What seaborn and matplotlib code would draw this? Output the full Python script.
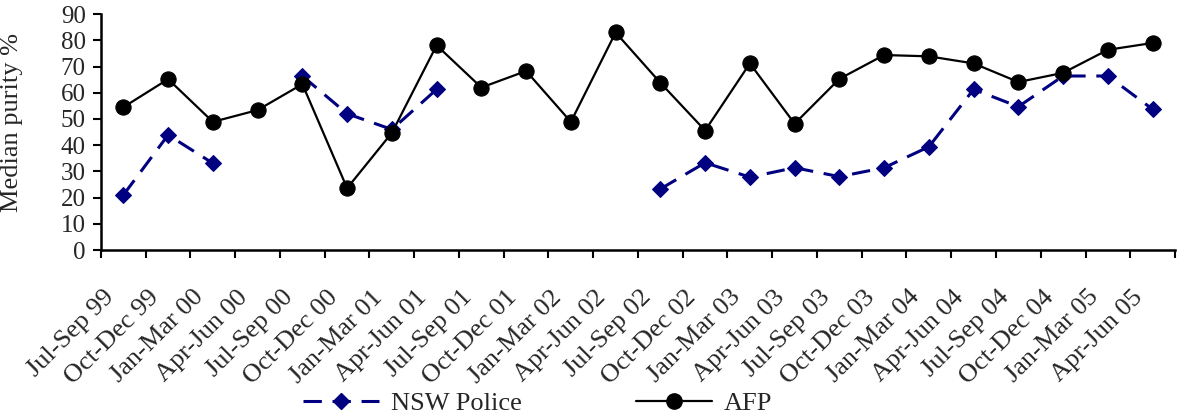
import numpy as np
import pandas as pd
import matplotlib
matplotlib.use("Agg")
import matplotlib.pyplot as plt
import matplotlib.transforms as mtransforms
from matplotlib.lines import Line2D
import seaborn as sns

quarters = ["Jul-Sep 99", "Oct-Dec 99", "Jan-Mar 00", "Apr-Jun 00", "Jul-Sep 00",
            "Oct-Dec 00", "Jan-Mar 01", "Apr-Jun 01", "Jul-Sep 01", "Oct-Dec 01",
            "Jan-Mar 02", "Apr-Jun 02", "Jul-Sep 02", "Oct-Dec 02", "Jan-Mar 03",
            "Apr-Jun 03", "Jul-Sep 03", "Oct-Dec 03", "Jan-Mar 04", "Apr-Jun 04",
            "Jul-Sep 04", "Oct-Dec 04", "Jan-Mar 05", "Apr-Jun 05"]
afp = [54.5, 65.2, 48.9, 53.4, 63.3, 23.6, 44.7, 78.1, 62.0, 68.3, 48.9, 83.0,
       63.8, 45.6, 71.2, 48.2, 65.3, 74.4, 73.9, 71.2, 64.1, 67.6, 76.4, 79.0]
nsw = [21.0, 43.9, 33.1, np.nan, 66.4, 52.0, 46.0, 61.3, np.nan, np.nan, np.nan, np.nan,
       23.3, 33.3, 27.8, 31.4, 28.0, 31.4, 39.4, 61.3, 54.7, 66.4, 66.4, 53.7]
y_ticks = list(range(0, 91, 10))

sns.set_theme(style="white")
plt.rcParams["font.family"] = ["Liberation Serif", "DejaVu Serif"]

FS = 19
idx = np.arange(len(quarters))
df_afp = pd.DataFrame({"x": idx, "y": afp})
nsw_arr = np.array(nsw, dtype=float)
seg = np.cumsum(np.isnan(nsw_arr))
df_nsw = pd.DataFrame({"x": idx, "y": nsw_arr, "seg": seg}).dropna()

fig = plt.figure(figsize=(11.84, 4.16), dpi=100)
ax = fig.add_axes([0.0853, 0.399, 0.9071, 0.567])

navy = "#000080"
sns.lineplot(data=df_nsw, x="x", y="y", units="seg", estimator=None, ax=ax,
             color=navy, linewidth=2.2, dashes=False, marker="D", markersize=8.5,
             markeredgecolor=navy, markerfacecolor=navy, legend=False)
for l in ax.get_lines():
    l.set_dashes([6, 3.5])
sns.lineplot(data=df_afp, x="x", y="y", ax=ax, color="black", linewidth=1.6,
             marker="o", markersize=11, markeredgecolor="black",
             markerfacecolor="black", legend=False)

ax.set_xlim(-0.5, len(quarters) - 0.5)
ax.set_ylim(0, 90)
ax.set_yticks(y_ticks)
ax.set_yticklabels([str(t) for t in y_ticks], fontsize=18)
ax.set_xticks(idx)
ax.set_xticklabels(quarters, rotation=45, ha="right", rotation_mode="anchor",
                   fontsize=FS)
ax.set_xticks(np.arange(len(quarters) + 1) - 0.5, minor=True)
ax.tick_params(axis="x", which="major", length=0, pad=8)
ax.tick_params(axis="x", which="minor", length=6, width=1.5, direction="out",
               color="black", bottom=True)
ax.tick_params(axis="y", length=6, width=1.5, direction="out", color="black",
               left=True, pad=5)
for lab in ax.get_xticklabels():
    lab.set_transform(lab.get_transform() +
                      mtransforms.ScaledTranslation(-15 / 72, -18 / 72, fig.dpi_scale_trans))
ax.set_xlabel("")
ax.set_ylabel("Median purity %", fontsize=FS)
ax.yaxis.set_label_coords(-0.0726, 0.542)
for s in ["top", "right"]:
    ax.spines[s].set_visible(False)
for s in ["left", "bottom"]:
    ax.spines[s].set_color("black")
    ax.spines[s].set_linewidth(1.8)
ax.grid(False)

h1 = Line2D([], [], color=navy, linewidth=2.2, dashes=[6, 3.5], marker="D",
            markersize=8.5, markerfacecolor=navy, markeredgecolor=navy)
h2 = Line2D([], [], color="black", linewidth=1.6, marker="o", markersize=11,
            markerfacecolor="black", markeredgecolor="black")
fig.legend([h1, h2], ["NSW Police", "AFP"], loc="center",
           bbox_to_anchor=(0.454, 0.031), ncol=2, frameon=False, fontsize=FS,
           handlelength=2.9, columnspacing=4.3, handletextpad=0.45,
           borderpad=0.1)

fig.savefig("out.png", dpi=100)
